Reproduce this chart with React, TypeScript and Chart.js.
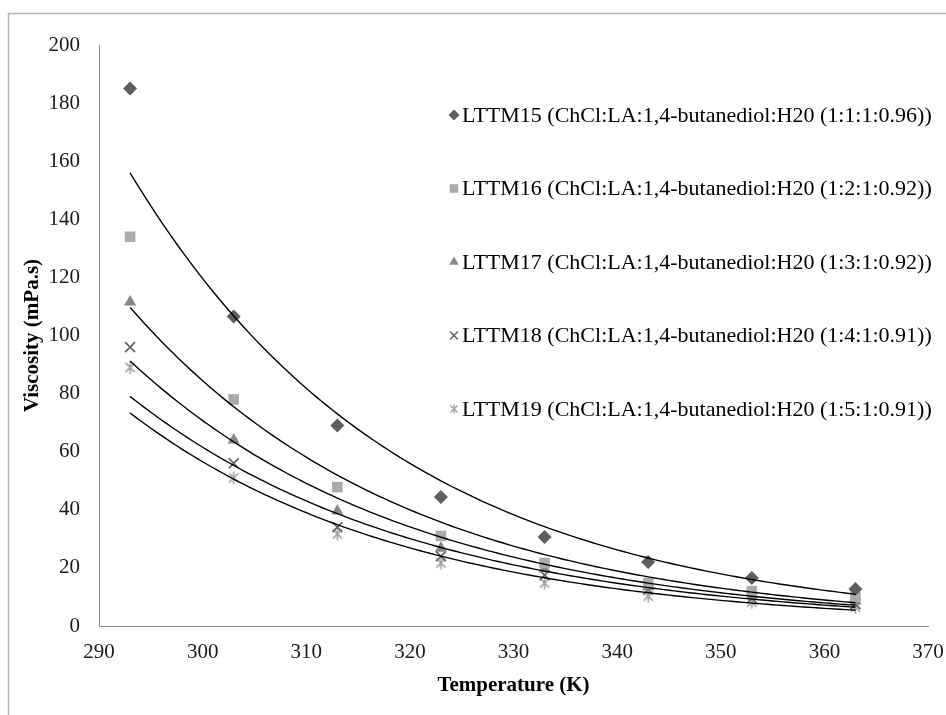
import React, { useEffect, useRef } from "react";
import { Chart, registerables } from "chart.js";

Chart.register(...registerables);

// ---- data ----
const temperatures = [293, 303, 313, 323, 333, 343, 353, 363];
const lttm15 = [185, 106.5, 69, 44.4, 30.6, 22, 16.5, 12.7];
const lttm16 = [134, 78, 47.8, 31, 21.7, 14.8, 12, 10];
const lttm17 = [111.5, 64, 39.6, 26.8, 19.6, 13.5, 10.5, 8.5];
const lttm18 = [96, 56, 34, 24, 17.5, 12.5, 9.5, 7.5];
const lttm19 = [89, 51, 31.7, 21.7, 14.8, 10.3, 8.2, 6.5];

const seriesLabels = [
  "LTTM15 (ChCl:LA:1,4-butanediol:H20 (1:1:1:0.96))",
  "LTTM16 (ChCl:LA:1,4-butanediol:H20 (1:2:1:0.92))",
  "LTTM17 (ChCl:LA:1,4-butanediol:H20 (1:3:1:0.92))",
  "LTTM18 (ChCl:LA:1,4-butanediol:H20 (1:4:1:0.91))",
  "LTTM19 (ChCl:LA:1,4-butanediol:H20 (1:5:1:0.91))",
];

const xTickValues = [290, 300, 310, 320, 330, 340, 350, 360, 370];
const yTickValues = [0, 20, 40, 60, 80, 100, 120, 140, 160, 180, 200];

const FONT = "'Liberation Serif', 'Times New Roman', serif";

function makeStar(color: string, size: number) {
  const c = document.createElement("canvas");
  c.width = size;
  c.height = size;
  const ctx = c.getContext("2d")!;
  const m = size / 2;
  const r = size / 2 - 1;
  ctx.strokeStyle = color;
  ctx.lineWidth = 1.6;
  ctx.beginPath();
  ctx.moveTo(m, m - r);
  ctx.lineTo(m, m + r);
  const d = r * Math.SQRT1_2;
  ctx.moveTo(m - d, m - d);
  ctx.lineTo(m + d, m + d);
  ctx.moveTo(m + d, m - d);
  ctx.lineTo(m - d, m + d);
  ctx.stroke();
  return c;
}

function expFit(xs: number[], ys: number[]) {
  const n = xs.length;
  const ly = ys.map((v) => Math.log(v));
  const mx = xs.reduce((a, b) => a + b, 0) / n;
  const my = ly.reduce((a, b) => a + b, 0) / n;
  let sxy = 0;
  let sxx = 0;
  for (let i = 0; i < n; i++) {
    sxy += (xs[i] - mx) * (ly[i] - my);
    sxx += (xs[i] - mx) * (xs[i] - mx);
  }
  const b = sxy / sxx;
  const lnA = my - b * mx;
  return (x: number) => Math.exp(lnA + b * x);
}

function drawMarker(ctx: CanvasRenderingContext2D, st: string, x: number, y: number, r: number) {
  ctx.beginPath();
  if (st === "rectRot") {
    ctx.moveTo(x - r, y);
    ctx.lineTo(x, y - r);
    ctx.lineTo(x + r, y);
    ctx.lineTo(x, y + r);
    ctx.closePath();
    ctx.fill();
  } else if (st === "rect") {
    const s = r * Math.SQRT1_2;
    ctx.rect(x - s, y - s, 2 * s, 2 * s);
    ctx.fill();
  } else if (st === "triangle") {
    ctx.moveTo(x, y - r);
    ctx.lineTo(x + r * Math.sin((2 * Math.PI) / 3), y - r * Math.cos((2 * Math.PI) / 3));
    ctx.lineTo(x + r * Math.sin((4 * Math.PI) / 3), y - r * Math.cos((4 * Math.PI) / 3));
    ctx.closePath();
    ctx.fill();
  } else if (st === "crossRot") {
    const d = r * Math.SQRT1_2;
    ctx.lineWidth = 1.4;
    ctx.moveTo(x - d, y - d);
    ctx.lineTo(x + d, y + d);
    ctx.moveTo(x + d, y - d);
    ctx.lineTo(x - d, y + d);
    ctx.stroke();
  }
}

export default function App() {
  const ref = useRef<HTMLCanvasElement | null>(null);

  useEffect(() => {
    if (!ref.current) return;
    const seriesValues = [lttm15, lttm16, lttm17, lttm18, lttm19];
    const colors = ["#5e5e5e", "#ababab", "#878787", "#5e5e5e", "#a3a3a3"];
    const styles: any[] = ["rectRot", "rect", "triangle", "crossRot", makeStar("#a3a3a3", 15)];
    const radii = [7, 7.5, 7, 7, 7.5];

    const datasets = seriesValues.map((vals, i) => ({
      label: seriesLabels[i],
      data: temperatures.map((t, j) => ({ x: t, y: vals[j] })),
      pointStyle: styles[i],
      pointRadius: radii[i],
      pointBackgroundColor: colors[i],
      pointBorderColor: colors[i],
      pointBorderWidth: i === 3 ? 1.6 : 0,
      showLine: false,
    }));

    const fits = seriesValues.map((vals) => expFit(temperatures, vals));

    const framePlugin = {
      id: "frame",
      beforeDraw(chart: any) {
        const ctx = chart.ctx;
        ctx.save();
        ctx.fillStyle = "#ffffff";
        ctx.fillRect(0, 0, chart.width, chart.height);
        ctx.strokeStyle = "#b4b4b4";
        ctx.lineWidth = 1.5;
        ctx.strokeRect(8.5, 13.5, 1200, 1200);
        ctx.restore();
      },
    };

    const trendPlugin = {
      id: "trend",
      afterDatasetsDraw(chart: any) {
        const ctx = chart.ctx;
        const xs = chart.scales.x;
        const ys = chart.scales.y;
        const x0 = temperatures[0];
        const x1 = temperatures[temperatures.length - 1];
        ctx.save();
        ctx.strokeStyle = "#000000";
        ctx.lineWidth = 1.4;
        fits.forEach((f) => {
          ctx.beginPath();
          const steps = 140;
          for (let k = 0; k <= steps; k++) {
            const xv = x0 + ((x1 - x0) * k) / steps;
            const px = xs.getPixelForValue(xv);
            const py = ys.getPixelForValue(f(xv));
            if (k === 0) ctx.moveTo(px, py);
            else ctx.lineTo(px, py);
          }
          ctx.stroke();
        });
        ctx.restore();
      },
    };

    const legendPlugin = {
      id: "customLegend",
      afterDraw(chart: any) {
        const ctx = chart.ctx;
        const rows = [115, 188.5, 262, 335.5, 409];
        ctx.save();
        ctx.font = `22px ${FONT}`;
        ctx.textBaseline = "middle";
        ctx.textAlign = "left";
        rows.forEach((y, i) => {
          const mx = 454;
          ctx.fillStyle = colors[i];
          ctx.strokeStyle = colors[i];
          const st = styles[i];
          if (typeof st === "string") {
            drawMarker(ctx, st, mx, y, radii[i] - 1.5);
          } else {
            ctx.drawImage(st, mx - 6, y - 6, 12, 12);
          }
          ctx.fillStyle = "#000000";
          ctx.fillText(seriesLabels[i], 462, y + 1);
        });
        ctx.restore();
      },
    };

    const chart = new Chart(ref.current, {
      type: "scatter",
      data: { datasets },
      plugins: [framePlugin, trendPlugin, legendPlugin],
      options: {
        animation: false,
        responsive: false,
        maintainAspectRatio: false,
        layout: { padding: { top: 45, right: 18, bottom: 0, left: 0 } },
        plugins: {
          legend: { display: false },
          tooltip: { enabled: false },
        },
        scales: {
          x: {
            type: "linear",
            min: 290,
            max: 370,
            afterBuildTicks: (s: any) => {
              s.ticks = xTickValues.map((v) => ({ value: v }));
            },
            afterFit: (s: any) => {
              s.height = 89;
              s.paddingLeft = 0;
              s.paddingRight = 0;
            },
            ticks: {
              font: { family: FONT, size: 21 },
              color: "#1a1a1a",
              padding: 14,
              maxRotation: 0,
            },
            grid: { display: true, drawOnChartArea: false, drawTicks: false },
            border: { display: true, color: "#8c8c8c", width: 1 },
            title: {
              display: true,
              text: "Temperature (K)",
              font: { family: FONT, size: 21, weight: "bold" },
              color: "#000000",
              padding: { top: 0, bottom: 17 },
            },
          },
          y: {
            type: "linear",
            min: 0,
            max: 200,
            afterBuildTicks: (s: any) => {
              s.ticks = yTickValues.map((v) => ({ value: v }));
            },
            afterFit: (s: any) => {
              s.width = 99;
              s.paddingTop = 0;
              s.paddingBottom = 0;
            },
            ticks: {
              font: { family: FONT, size: 21 },
              color: "#1a1a1a",
              padding: 19,
            },
            grid: { display: true, drawOnChartArea: false, drawTicks: false },
            border: { display: true, color: "#8c8c8c", width: 1 },
            title: {
              display: true,
              text: "Viscosity (mPa.s)",
              font: { family: FONT, size: 21, weight: "bold" },
              color: "#000000",
              padding: { top: 20, bottom: 0 },
            },
          },
        },
      },
    } as any);

    return () => chart.destroy();
  }, []);

  return (
    <div style={{ position: "fixed", left: 0, top: 0, width: 946, height: 715, overflow: "hidden", background: "#fff" }}>
      <canvas ref={ref} width={946} height={715} style={{ display: "block", width: 946, height: 715 }} />
    </div>
  );
}
